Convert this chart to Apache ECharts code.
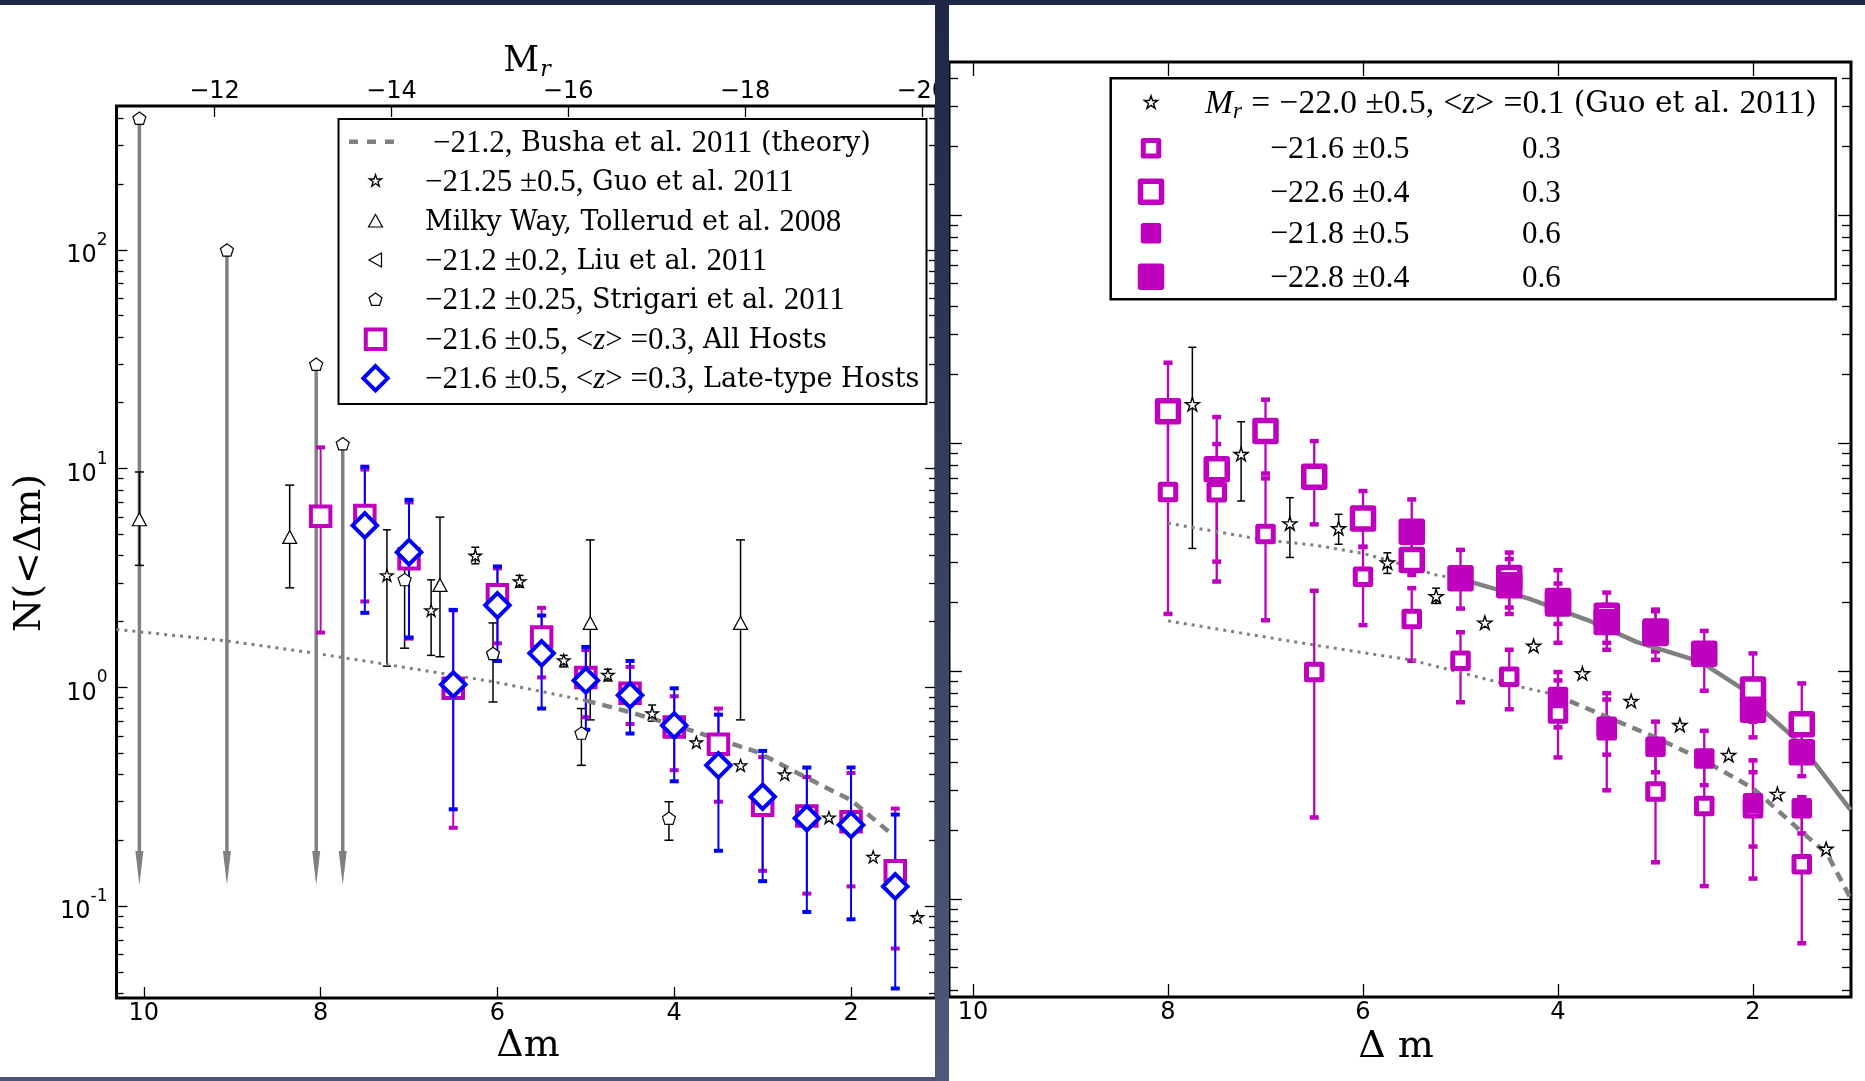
<!DOCTYPE html>
<html><head><meta charset="utf-8">
<script src="https://cdn.jsdelivr.net/npm/echarts@6/dist/echarts.min.js"></script>
<style>html,body{margin:0;padding:0;background:#fff;}#c{width:1865px;height:1081px;}</style>
</head><body><div id="c"></div><script>
// ---------------- DATA ----------------
const dmTicks = [2, 4, 6, 8, 10];
const hostMr = -21.2;                       // M_r = hostMr + Δm (top axis)
const mrTickDm = [9.2, 7.2, 5.2, 3.2, 1.2]; // Δm positions of M_r = -12,-14,-16,-18,-20
const yMajor = [0.1, 1, 10, 100];
const yMinor = [0.04,0.05,0.06,0.07,0.08,0.09,0.2,0.3,0.4,0.5,0.6,0.7,0.8,0.9,2,3,4,5,6,7,8,9,20,30,40,50,60,70,80,90,200,300,400];

// Left panel
const bushaDotDm = [10.31, 9.06, 8.05, 7.24, 6.04, 5.0];
const bushaDotN  = [1.84, 1.63, 1.43, 1.27, 1.06, 0.87];
const bushaDashDm = [5.0, 4.5, 3.78, 3.06, 2.52, 2.0, 1.55];
const bushaDashN  = [0.87, 0.77, 0.63, 0.506, 0.389, 0.305, 0.215];

const guoLDm = [7.25, 6.75, 6.25, 5.75, 5.25, 4.75, 4.25, 3.75, 3.25, 2.75, 2.25, 1.75, 1.25];
const guoLN  = [3.25, 2.25, 4.0, 3.05, 1.33, 1.14, 0.76, 0.56, 0.44, 0.40, 0.254, 0.168, 0.089];
const guoLLo = [1.25, 1.4, 3.67, 2.87, 1.24, 1.07, 0.70, null, null, null, null, null, null];
const guoLHi = [5.25, 3.1, 4.37, 3.25, 1.40, 1.21, 0.83, null, null, null, null, null, null];

const tolDm = [10.05, 8.35, 6.65, 4.95, 3.25];
const tolN  = [5.87, 4.87, 2.94, 1.97, 1.97];
const tolLo = [3.61, 2.85, 1.38, 0.71, 0.71];
const tolHi = [9.65, 8.4, 6.0, 4.72, 4.72];

const strDm = [7.05, 6.05, 5.05, 4.06];
const strN  = [3.11, 1.43, 0.618, 0.252];
const strLo = [1.51, 0.857, 0.44, 0.20];
const strHi = [3.6, 1.97, 0.80, 0.30];
const strLimDm  = [10.05, 9.06, 8.05, 7.75];
const strLimN   = [400, 100, 30, 13];
const strLimTip = [0.125, 0.125, 0.125, 0.125];

const allDm = [8.0, 7.5, 7.0, 6.5, 6.0, 5.5, 5.0, 4.5, 4.0, 3.5, 3.0, 2.5, 2.0, 1.5];
const allN  = [6.06, 6.1, 3.87, 0.99, 2.65, 1.70, 1.11, 0.94, 0.659, 0.549, 0.289, 0.258, 0.243, 0.145];
const allLo = [1.78, 2.47, 1.67, 0.228, 1.59, 1.11, 0.73, 0.68, 0.418, 0.30, 0.145, 0.114, 0.123, 0.064];
const allHi = [12.5, 9.9, 7.0, 2.25, 3.5, 2.31, 1.48, 1.24, 0.91, 0.80, 0.48, 0.389, 0.406, 0.279];

const lateDm = [7.5, 7.0, 6.5, 6.0, 5.5, 5.0, 4.5, 4.0, 3.5, 3.0, 2.5, 2.0, 1.5];
const lateN  = [5.5, 4.15, 1.03, 2.37, 1.43, 1.076, 0.92, 0.67, 0.44, 0.316, 0.252, 0.235, 0.123];
const lateLo = [2.19, 1.69, 0.277, 1.32, 0.80, 0.64, 0.615, 0.372, 0.179, 0.13, 0.094, 0.087, 0.042];
const lateHi = [10.2, 7.2, 2.26, 3.57, 2.13, 1.53, 1.32, 0.99, 0.75, 0.512, 0.43, 0.43, 0.262];

// Right panel
const upDotDm = [8.0, 7.0, 6.5, 6.0, 5.75, 5.25, 4.95];
const upDotN  = [4.45, 3.75, 3.57, 3.28, 3.07, 2.64, 2.5];
const upSolidDm = [4.95, 4.30, 3.69, 3.19, 2.54, 2.04, 1.86, 1.59, 1.35, 1.0];
const upSolidN  = [2.5, 2.08, 1.67, 1.34, 1.1, 0.80, 0.652, 0.515, 0.387, 0.246];
const loDotDm = [8.0, 6.5, 5.5, 4.7, 4.04];
const loDotN  = [1.66, 1.3, 1.117, 0.913, 0.79];
const loDashDm = [4.04, 3.5, 3.0, 2.5, 2.0, 1.5, 1.24, 0.995];
const loDashN  = [0.79, 0.63, 0.512, 0.405, 0.306, 0.197, 0.158, 0.10];

const guoRDm = [7.75, 7.25, 6.75, 6.25, 5.75, 5.25, 4.75, 4.25, 3.75, 3.25, 2.75, 2.25, 1.75, 1.25];
const guoRN  = [14.8, 8.95, 4.44, 4.23, 2.99, 2.13, 1.63, 1.29, 0.977, 0.739, 0.58, 0.428, 0.289, 0.166];
const guoRLo = [3.45, 5.57, 3.15, 3.6, 2.68, 1.98, null, null, null, null, null, null, null, null];
const guoRHi = [26.3, 12.4, 5.76, 4.87, 3.3, 2.31, null, null, null, null, null, null, null, null];

// -21.6±0.5, z=0.3 (small open)
const aDm = [8.0, 7.5, 7.0, 6.5, 6.0, 5.5, 5.0, 4.5, 4.0, 3.5, 3.0, 2.5, 2.0, 1.5];
const aN  = [6.1, 6.08, 3.99, 0.99, 2.59, 1.69, 1.11, 0.944, 0.652, 0.55, 0.296, 0.256, 0.25, 0.142];
const aLo = [1.78, 2.47, 1.67, 0.228, 1.59, 1.11, 0.73, 0.68, 0.418, 0.30, 0.145, 0.114, 0.123, 0.064];
const aHi = [12.5, 9.9, 7.0, 2.25, 3.5, 2.31, 1.48, 1.24, 0.91, 0.80, 0.48, 0.389, 0.406, 0.279];
// -22.6±0.4, z=0.3 (large open)
const bDm = [8.0, 7.5, 7.0, 6.5, 6.0, 5.5, 4.5, 4.0, 3.5, 3.0, 2.0, 1.5];
const bN  = [13.8, 7.67, 11.3, 7.12, 4.67, 3.07, 2.56, 2.03, 1.75, 1.47, 0.83, 0.584];
const bLo = [6.4, 3.02, 7.35, 4.4, 3.51, 2.64, 1.78, 1.33, 1.24, 1.12, 0.6, 0.45];
const bHi = [22.5, 13.0, 15.5, 10.2, 6.16, 3.9, 3.31, 2.77, 2.21, 1.86, 1.195, 0.883];
// -21.8±0.5, z=0.6 (small filled)
const cDm = [4.0, 3.5, 3.0, 2.5, 2.0, 1.5];
const cN  = [0.77, 0.57, 0.466, 0.414, 0.263, 0.25];
const cLo = [0.566, 0.43, 0.36, 0.316, 0.17, 0.194];
const cHi = [0.99, 0.75, 0.60, 0.547, 0.36, 0.28];
// -22.8±0.4, z=0.6 (large filled)
const dDm = [5.5, 5.0, 4.5, 4.0, 3.5, 3.0, 2.5, 2.0, 1.5];
const dN  = [4.08, 2.55, 2.38, 1.98, 1.64, 1.49, 1.19, 0.676, 0.44];
const dLo = [3.3, 1.88, 1.9, 1.61, 1.33, 1.22, 0.82, 0.512, 0.346];
const dHi = [5.66, 3.4, 3.1, 2.42, 1.95, 1.83, 1.50, 0.87, 0.61];

// ---------------- STYLE / HELPERS ----------------
const MAG = '#bf00bf', BLUE = '#0000ff', GRAY = '#808080';
const SANS = 'DejaVu Sans', SERIF = 'DejaVu Serif', MATH = 'Liberation Serif';
const STAR = 'path://M0,-10L2.245,-3.09L9.51,-3.09L3.633,1.18L5.88,8.09L0,3.82L-5.88,8.09L-3.633,1.18L-9.51,-3.09L-2.245,-3.09Z';
const PENT = 'path://M0,-10L9.51,-3.09L5.88,8.09L-5.88,8.09L-9.51,-3.09Z';

const zip = (a, b) => a.map((v, i) => [v, b[i]]);

function lineSeries(dm, n, xi, yi, width, dash) {
  return { type: 'line', xAxisIndex: xi, yAxisIndex: yi, data: zip(dm, n), showSymbol: false, symbol: 'none',
    silent: true, clip: true, z: 2,
    lineStyle: { color: GRAY, width: width, type: dash, cap: 'butt' } };
}
function errSeries(dm, lo, hi, xi, yi, color, lw, capW, capH, capRect) {
  const data = [];
  dm.forEach((d, i) => { if (lo[i] != null && hi[i] != null) data.push([d, lo[i], hi[i]]); });
  return { type: 'custom', xAxisIndex: xi, yAxisIndex: yi, data, silent: true, clip: true, z: 2,
    encode: { x: 0, y: [1, 2] },
    renderItem(params, api) {
      const x = api.value(0);
      const a = api.coord([x, api.value(1)]), b = api.coord([x, api.value(2)]);
      const ch = [{ type: 'line', shape: { x1: a[0], y1: a[1], x2: b[0], y2: b[1] }, style: { stroke: color, lineWidth: lw } }];
      [a, b].forEach(p => {
        if (capRect) ch.push({ type: 'rect', shape: { x: p[0] - capW / 2, y: p[1] - capH / 2, width: capW, height: capH }, style: { fill: color } });
        else ch.push({ type: 'line', shape: { x1: p[0] - capW / 2, y1: p[1], x2: p[0] + capW / 2, y2: p[1] }, style: { stroke: color, lineWidth: lw } });
      });
      return { type: 'group', children: ch };
    } };
}
function arrowSeries(dm, top, tip, xi, yi) {
  return { type: 'custom', xAxisIndex: xi, yAxisIndex: yi, data: dm.map((d, i) => [d, top[i], tip[i]]),
    silent: true, clip: true, z: 2, encode: { x: 0, y: [1, 2] },
    renderItem(params, api) {
      const x = api.value(0);
      const a = api.coord([x, api.value(1)]), b = api.coord([x, api.value(2)]);
      const headLen = 34, headW = 8;
      return { type: 'group', children: [
        { type: 'line', shape: { x1: a[0], y1: a[1], x2: b[0], y2: b[1] - headLen }, style: { stroke: GRAY, lineWidth: 3.5 } },
        { type: 'polygon', shape: { points: [[b[0] - headW / 2, b[1] - headLen], [b[0] + headW / 2, b[1] - headLen], [b[0], b[1]]] }, style: { fill: GRAY } }
      ] };
    } };
}
function scatter(dm, n, xi, yi, symbol, size, fill, stroke, bw, join) {
  return { type: 'scatter', xAxisIndex: xi, yAxisIndex: yi, data: zip(dm, n), symbol, symbolSize: size,
    symbolKeepAspect: true, silent: true, clip: true, z: 2,
    itemStyle: { color: fill, borderColor: stroke, borderWidth: bw, borderJoin: join || 'miter', opacity: 1 } };
}

// ---------------- AXES ----------------
const L = { xmin: 1.039, xmax: 10.309, ymin: 0.038, ymax: 454.6 };
const R = { xmin: 0.995, xmax: 10.246, ymin: 0.0372, ymax: 469 };
const tickLS = { color: '#000', width: 1.3 };
function xAx(g, pos, r, tickVals, len, labelVals, fmt) {
  return { gridIndex: g, type: 'value', position: pos, min: r.xmin, max: r.xmax, inverse: true,
    axisLine: { show: false }, splitLine: { show: false },
    axisTick: { show: true, inside: true, length: len, customValues: tickVals, lineStyle: tickLS },
    axisLabel: labelVals ? { show: true, customValues: labelVals, formatter: fmt, fontFamily: SANS, fontSize: 24, color: '#000', margin: pos === 'top' ? 2 : 4 } : { show: false } };
}
function yAx(g, pos, r, tickVals, len, labels) {
  const ax = { gridIndex: g, type: 'log', logBase: 10, position: pos, min: r.ymin, max: r.ymax,
    axisLine: { show: false }, splitLine: { show: false },
    axisTick: { show: true, inside: true, length: len, customValues: tickVals, lineStyle: tickLS },
    axisLabel: { show: false } };
  if (labels) {
    ax.axisLabel = { show: true, customValues: tickVals, margin: 9, color: '#000',
      formatter: v => '{b|10}{s|' + Math.round(Math.log10(v)) + '}',
      rich: { b: { fontFamily: SANS, fontSize: 24, color: '#000', padding: [12, 0, 0, 0] },
              s: { fontFamily: SANS, fontSize: 17, color: '#000', verticalAlign: 'top' } } };
  }
  return ax;
}

// ---------------- SERIES ----------------
const series = [
  // left panel
  lineSeries(bushaDotDm, bushaDotN, 0, 0, 3, [3, 5]),
  lineSeries(bushaDashDm, bushaDashN, 0, 0, 4.5, [10, 7]),
  arrowSeries(strLimDm, strLimN, strLimTip, 0, 0),
  errSeries(tolDm, tolLo, tolHi, 0, 0, '#000', 1.5, 9, 0, false),
  scatter(tolDm, tolN, 0, 0, 'triangle', [14, 13], '#fff', '#000', 1.2),
  errSeries(guoLDm, guoLLo, guoLHi, 0, 0, '#000', 1.5, 8, 0, false),
  scatter(guoLDm, guoLN, 0, 0, STAR, 12.5, '#fff', '#000', 1.3),
  errSeries(strDm, strLo, strHi, 0, 0, '#000', 1.5, 9, 0, false),
  scatter(strDm, strN, 0, 0, PENT, 13, '#fff', '#000', 1.2),
  scatter(strLimDm, strLimN, 0, 0, PENT, 13, '#fff', '#000', 1.2),
  errSeries(allDm, allLo, allHi, 0, 0, MAG, 2, 9, 4, true),
  scatter(allDm, allN, 0, 0, 'rect', 19.5, '#fff', MAG, 4),
  errSeries(lateDm, lateLo, lateHi, 0, 0, BLUE, 2, 9, 4, true),
  scatter(lateDm, lateN, 0, 0, 'diamond', 24.5, '#fff', BLUE, 4),
  // right panel
  lineSeries(upDotDm, upDotN, 2, 4, 3, [3, 5]),
  lineSeries(upSolidDm, upSolidN, 2, 4, 4.5, 'solid'),
  lineSeries(loDotDm, loDotN, 2, 4, 3, [3, 5]),
  lineSeries(loDashDm, loDashN, 2, 4, 4.5, [10, 7]),
  errSeries(guoRDm, guoRLo, guoRHi, 2, 4, '#000', 1.5, 8, 0, false),
  scatter(guoRDm, guoRN, 2, 4, STAR, 14, '#fff', '#000', 1.4),
  errSeries(aDm, aLo, aHi, 2, 4, MAG, 2.3, 9, 4.5, true),
  scatter(aDm, aN, 2, 4, 'rect', 15.5, '#fff', MAG, 5, 'round'),
  errSeries(bDm, bLo, bHi, 2, 4, MAG, 2.3, 9, 4.5, true),
  scatter(bDm, bN, 2, 4, 'rect', 21, '#fff', MAG, 5.5, 'round'),
  errSeries(cDm, cLo, cHi, 2, 4, MAG, 2.3, 9, 4.5, true),
  scatter(cDm, cN, 2, 4, 'rect', 15.5, MAG, MAG, 5, 'round'),
  errSeries(dDm, dLo, dHi, 2, 4, MAG, 2.3, 9, 4.5, true),
  scatter(dDm, dN, 2, 4, 'rect', 21, MAG, MAG, 5.5, 'round')
];

// ---------------- GRAPHIC (frame, titles, legends) ----------------
function starPts(cx, cy, R) {
  const p = [];
  for (let k = 0; k < 10; k++) {
    const r = k % 2 === 0 ? R : R * 0.382;
    const a = -Math.PI / 2 + k * Math.PI / 5;
    p.push([cx + r * Math.cos(a), cy + r * Math.sin(a)]);
  }
  return p;
}
function pentPts(cx, cy, R) {
  const p = [];
  for (let k = 0; k < 5; k++) { const a = -Math.PI / 2 + k * 2 * Math.PI / 5; p.push([cx + R * Math.cos(a), cy + R * Math.sin(a)]); }
  return p;
}
const Z = 100;
function txt(x, y, text, size, msize) {
  return { type: 'text', x, y, z: Z + 2,
    style: { text, fontFamily: SERIF, fontSize: size, fill: '#000', align: 'left', verticalAlign: 'middle',
      rich: { n: { fontFamily: MATH, fontSize: msize },
              ni: { fontFamily: MATH, fontSize: msize, fontStyle: 'italic' },
              sub: { fontFamily: MATH, fontSize: Math.round(msize * 0.68), fontStyle: 'italic', padding: [Math.round(msize * 0.45), 0, 0, 0] } } } };
}

const lx = 375.5, lrows = [143.5, 183, 223, 262, 301.3, 341.3, 380.3];
const rx = 1151, rrows = [104.5, 150, 193.5, 235, 278.5];
const graphic = [
  // frame
  { type: 'rect', z: 200, shape: { x: 0, y: 0, width: 1865, height: 5 }, style: { fill: '#1f2947' } },
  { type: 'rect', z: 200, shape: { x: 935, y: 0, width: 14, height: 1081 },
    style: { fill: new echarts.graphic.LinearGradient(0, 0, 0, 1, [{ offset: 0, color: '#1e2846' }, { offset: 1, color: '#4f597b' }]) } },
  { type: 'rect', z: 200, shape: { x: 0, y: 1077, width: 936, height: 4 }, style: { fill: '#4b5476' } },
  // axis titles
  { type: 'text', x: 527, y: 62, z: Z, style: { text: '{m|M}{r|r}', align: 'center', verticalAlign: 'middle', fill: '#000',
      rich: { m: { fontFamily: SERIF, fontSize: 35 }, r: { fontFamily: SERIF, fontSize: 22, fontStyle: 'italic', padding: [16, 0, 0, 1] } } } },
  { type: 'text', x: 30, y: 553, rotation: Math.PI / 2, z: Z, style: { text: 'N(<Δm)', fontFamily: SERIF, fontSize: 38, fill: '#000', align: 'center', verticalAlign: 'middle' } },
  { type: 'text', x: 528, y: 1046, z: Z, style: { text: 'Δm', fontFamily: SERIF, fontSize: 38, fill: '#000', align: 'center', verticalAlign: 'middle' } },
  { type: 'text', x: 1396, y: 1047, z: Z, style: { text: 'Δ m', fontFamily: SERIF, fontSize: 38, fill: '#000', align: 'center', verticalAlign: 'middle' } },
  // left legend
  { type: 'rect', z: Z, shape: { x: 338.5, y: 119, width: 588, height: 285 }, style: { fill: '#fff', stroke: '#000', lineWidth: 2 } },
  { type: 'line', z: Z + 1, shape: { x1: 349, y1: 141.7, x2: 394, y2: 141.7 }, style: { stroke: GRAY, lineWidth: 4.5, lineDash: [9, 9] } },
  { type: 'polygon', z: Z + 1, shape: { points: starPts(lx, 181, 6.5) }, style: { fill: '#fff', stroke: '#000', lineWidth: 1.3 } },
  { type: 'polygon', z: Z + 1, shape: { points: [[lx, 221 - 6.5], [lx + 7, 221 + 6], [lx - 7, 221 + 6]] }, style: { fill: '#fff', stroke: '#000', lineWidth: 1.2 } },
  { type: 'polygon', z: Z + 1, shape: { points: [[lx - 6.5, 260], [lx + 6, 260 - 7], [lx + 6, 260 + 7]] }, style: { fill: '#fff', stroke: '#000', lineWidth: 1.2 } },
  { type: 'polygon', z: Z + 1, shape: { points: pentPts(lx, 299.8, 6.8) }, style: { fill: '#fff', stroke: '#000', lineWidth: 1.2 } },
  { type: 'rect', z: Z + 1, shape: { x: lx - 9.75, y: 339.3 - 9.75, width: 19.5, height: 19.5 }, style: { fill: '#fff', stroke: MAG, lineWidth: 4, lineJoin: 'miter' } },
  { type: 'polygon', z: Z + 1, shape: { points: [[lx, 378.3 - 12.2], [lx + 12.2, 378.3], [lx, 378.3 + 12.2], [lx - 12.2, 378.3]] }, style: { fill: '#fff', stroke: BLUE, lineWidth: 4, lineJoin: 'miter' } },
  txt(433, lrows[0], '{n|\u221221.2,} Busha et al. {n|2011} (theory)', 27, 31),
  txt(425, lrows[1], '{n|\u221221.25 \u00b10.5,} Guo et al. {n|2011}', 27, 31),
  txt(425, lrows[2], 'Milky Way, Tollerud et al. {n|2008}', 27, 31),
  txt(425, lrows[3], '{n|\u221221.2 \u00b10.2,} Liu et al. {n|2011}', 27, 31),
  txt(425, lrows[4], '{n|\u221221.2 \u00b10.25,} Strigari et al. {n|2011}', 27, 31),
  txt(425, lrows[5], '{n|\u221221.6 \u00b10.5, <}{ni|z}{n|> =0.3,} All Hosts', 27, 31),
  txt(425, lrows[6], '{n|\u221221.6 \u00b10.5, <}{ni|z}{n|> =0.3,} Late-type Hosts', 27, 31),
  // right legend
  { type: 'rect', z: Z, shape: { x: 1110.7, y: 78.3, width: 725, height: 221 }, style: { fill: '#fff', stroke: '#000', lineWidth: 2.5 } },
  { type: 'polygon', z: Z + 1, shape: { points: starPts(rx, 102.7, 7) }, style: { fill: '#fff', stroke: '#000', lineWidth: 1.4 } },
  { type: 'rect', z: Z + 1, shape: { x: rx - 7.75, y: 148.3 - 7.75, width: 15.5, height: 15.5 }, style: { fill: '#fff', stroke: MAG, lineWidth: 5, lineJoin: 'round' } },
  { type: 'rect', z: Z + 1, shape: { x: rx - 10.5, y: 191.7 - 10.5, width: 21, height: 21 }, style: { fill: '#fff', stroke: MAG, lineWidth: 5.5, lineJoin: 'round' } },
  { type: 'rect', z: Z + 1, shape: { x: rx - 7.75, y: 233.3 - 7.75, width: 15.5, height: 15.5 }, style: { fill: MAG, stroke: MAG, lineWidth: 5, lineJoin: 'round' } },
  { type: 'rect', z: Z + 1, shape: { x: rx - 10.5, y: 276.7 - 10.5, width: 21, height: 21 }, style: { fill: MAG, stroke: MAG, lineWidth: 5.5, lineJoin: 'round' } },
  txt(1205, rrows[0], '{ni|M}{sub|r} {n|=} {n|\u221222.0 \u00b10.5,} {n|<}{ni|z}{n|>} {n|=0.1} (Guo et al. {n|2011})', 29.5, 33.5),
  txt(1270, rrows[1], '{n|\u221221.6 \u00b10.5}', 27, 32), txt(1522, rrows[1], '{n|0.3}', 27, 31),
  txt(1270, rrows[2], '{n|\u221222.6 \u00b10.4}', 27, 32), txt(1522, rrows[2], '{n|0.3}', 27, 31),
  txt(1270, rrows[3], '{n|\u221221.8 \u00b10.5}', 27, 32), txt(1522, rrows[3], '{n|0.6}', 27, 31),
  txt(1270, rrows[4], '{n|\u221222.8 \u00b10.4}', 27, 32), txt(1522, rrows[4], '{n|0.6}', 27, 31)
];

const option = {
  animation: false,
  backgroundColor: '#fff',
  grid: [
    { left: 116.5, top: 106, width: 819.5, height: 892, show: true, borderColor: '#000', borderWidth: 3, backgroundColor: 'transparent' },
    { left: 949, top: 62, width: 902, height: 935, show: true, borderColor: '#000', borderWidth: 3, backgroundColor: 'transparent' }
  ],
  xAxis: [
    xAx(0, 'bottom', L, dmTicks, 11, dmTicks, v => String(v)),
    xAx(0, 'top', L, mrTickDm, 11, mrTickDm, v => '\u2212' + Math.round(-(v + hostMr))),
    xAx(1, 'bottom', R, dmTicks, 13, dmTicks, v => String(v)),
    xAx(1, 'top', R, dmTicks, 14, null)
  ],
  yAxis: [
    yAx(0, 'left', L, yMajor, 11, true),
    yAx(0, 'left', L, yMinor, 7, false),
    yAx(0, 'right', L, yMajor, 11, false),
    yAx(0, 'right', L, yMinor, 7, false),
    yAx(1, 'left', R, yMajor, 13, false),
    yAx(1, 'left', R, yMinor, 9, false),
    yAx(1, 'right', R, yMajor, 13, false),
    yAx(1, 'right', R, yMinor, 9, false)
  ],
  series,
  graphic
};
const chart = echarts.init(document.getElementById('c'), null, { renderer: 'canvas' });
chart.setOption(option);
</script></body></html>
